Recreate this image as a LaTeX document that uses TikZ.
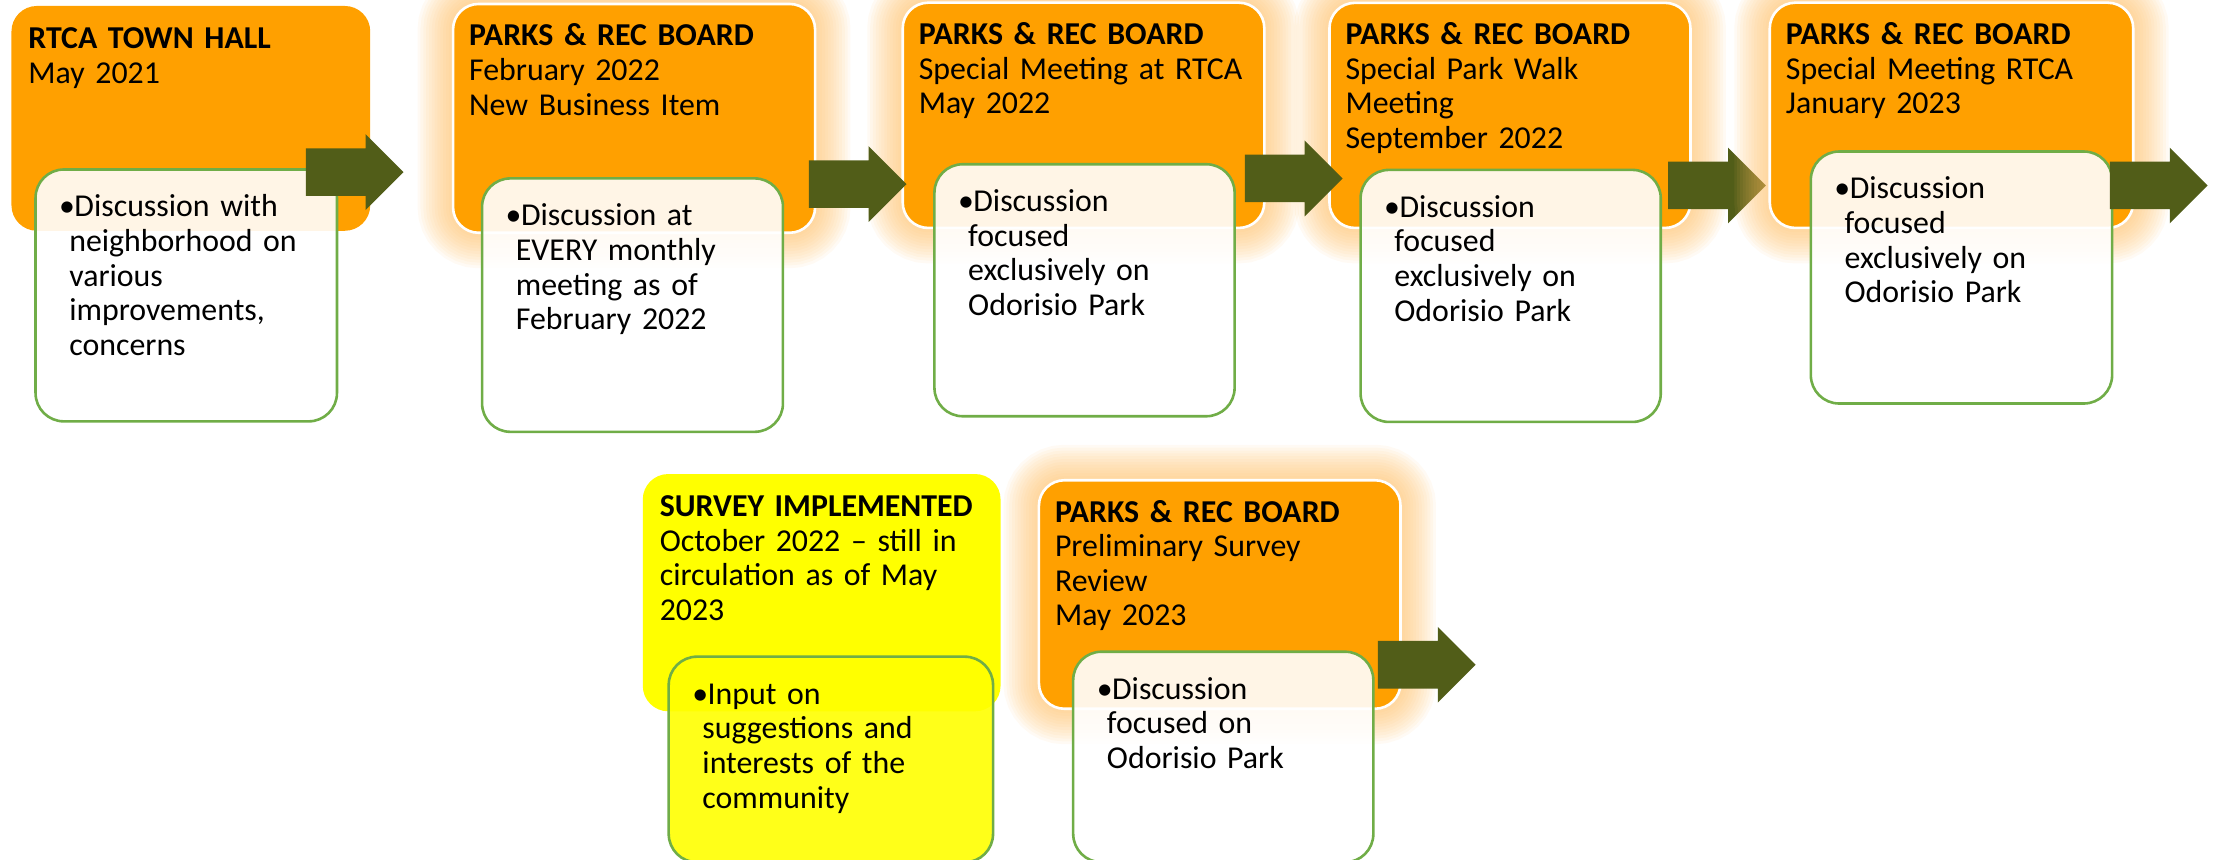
\documentclass[tikz,border=0pt]{standalone}
\usepackage{fontspec}
\setmainfont{Carlito}
\usetikzlibrary{shapes,arrows,positioning,fit}

\definecolor{stageorange}{RGB}{255,160,0}
\definecolor{surveyyellow}{RGB}{255,255,0}
\definecolor{notegreen}{RGB}{112,173,71}
\definecolor{arrowolive}{RGB}{81,93,24}
\definecolor{glowpeach}{RGB}{255,188,95}

\newcommand{\notebul}{\strut\hspace*{-0.18cm}\makebox[0.27cm][l]{\textbullet}}

\begin{document}
\begin{tikzpicture}[x=0.025cm, y=-0.025cm,
    stage/.style={fill=stageorange, rounded corners=0.45cm, inner sep=0pt},
    glowring/.style={preaction={draw=glowpeach, draw opacity=0.07, line width=#1}},
    glow/.style={draw=white, line width=1.3pt,
      glowring=1.25cm, glowring=1.15cm, glowring=1.05cm, glowring=0.95cm,
      glowring=0.85cm, glowring=0.75cm, glowring=0.65cm, glowring=0.55cm,
      glowring=0.45cm, glowring=0.35cm, glowring=0.25cm, glowring=0.15cm},
    note/.style={fill=white, fill opacity=0.9, draw=notegreen, line width=1.3pt,
      rounded corners=0.5cm, inner sep=0pt},
    head/.style={anchor=north west, inner sep=0pt, align=left, text width=6.2cm,
      font=\fontsize{16}{17.4}\selectfont},
    notetext/.style={anchor=north west, inner sep=0pt, align=left, text width=5cm,
      font=\fontsize{16}{17.4}\selectfont},
    blockarrow/.style={single arrow, fill=arrowolive, inner sep=0pt, anchor=tail,
      text height=0.825cm, text depth=0pt, text width=0pt,
      minimum height=1.725cm, minimum width=1.325cm,
      single arrow head extend=0.25cm, single arrow tip angle=90}]
  \useasboundingbox (0,0) rectangle (1568,607);
  \clip (0,0) rectangle (1568,607);

  %top row
  \node[stage, fit={(8.1,4.2) (261.5,163)}] (b1) {};
  \node[head] (t1) at ([shift={(12,13)}]b1.north west)
    {\strut\textbf{RTCA TOWN HALL}\\May 2021};
  \node[note, fit={(25.1,119.7) (238,297.6)}] (n1) {};
  \node[notetext] (m1) at ([shift={(24.5,17)}]n1.north west)
    {\notebul Discussion with\\neighborhood on\\various\\improvements,\\concerns};

  \node[stage, glow, fit={(320,2.8) (575.7,164.4)}] (b2) {};
  \node[head] (t2) at ([shift={(12,13)}]b2.north west)
    {\strut\textbf{PARKS \& REC BOARD}\\February 2022\\New Business Item};
  \node[note, fit={(340.5,126) (553,305)}] (n2) {};
  \node[notetext] (m2) at ([shift={(24.5,17)}]n2.north west)
    {\notebul Discussion at\\EVERY monthly\\meeting as of\\February 2022};

  \node[stage, glow, fit={(637.6,1.9) (893,161)}] (b3) {};
  \node[head] (t3) at ([shift={(12,13)}]b3.north west)
    {\strut\textbf{PARKS \& REC BOARD}\\Special Meeting at RTCA\\May 2022};
  \node[note, fit={(660,116) (872,294)}] (n3) {};
  \node[notetext] (m3) at ([shift={(24.5,17)}]n3.north west)
    {\notebul Discussion\\focused\\exclusively on\\Odorisio Park};

  \node[stage, glow, fit={(939,2) (1194,161)}] (b4) {};
  \node[head] (t4) at ([shift={(12,13)}]b4.north west)
    {\strut\textbf{PARKS \& REC BOARD}\\Special Park Walk\\Meeting\\September 2022};
  \node[note, fit={(961,120) (1173,298)}] (n4) {};
  \node[notetext] (m4) at ([shift={(24.5,17)}]n4.north west)
    {\notebul Discussion\\focused\\exclusively on\\Odorisio Park};

  \node[blockarrow] (a1) at (215.7,121.6) {};
  \node[blockarrow] (a2) at (571,130) {};
  \node[blockarrow] (a3) at (879,126) {};
  \node[blockarrow] (a4) at (1178,131) {};

  \node[stage, glow, fit={(1250,1.9) (1506.7,161)}] (b5) {};
  \node[head] (t5) at ([shift={(12,13)}]b5.north west)
    {\strut\textbf{PARKS \& REC BOARD}\\Special Meeting RTCA\\January 2023};
  \node[note, fit={(1279,107) (1491.8,285)}] (n5) {};
  \node[notetext] (m5) at ([shift={(24.5,17)}]n5.north west)
    {\notebul Discussion\\focused\\exclusively on\\Odorisio Park};
  \node[blockarrow] (a5) at (1490,131) {};

  %bottom row
  \node[stage, fill=surveyyellow, fit={(454,334.8) (706.7,502.4)}] (b6) {};
  \node[head] (t6) at ([shift={(12,13)}]b6.north west)
    {\strut\textbf{SURVEY IMPLEMENTED}\\October 2022 -- still in\\circulation as of May\\2023};
  \node[note, fill=surveyyellow, fit={(472.3,463.8) (701.4,609)}] (n6) {};
  \node[notetext] (m6) at ([shift={(24.5,17)}]n6.north west)
    {\notebul Input on\\suggestions and\\interests of the\\community};

  \node[stage, glow, fit={(733.8,339.2) (989.2,500.6)}] (b7) {};
  \node[head] (t7) at ([shift={(12,13)}]b7.north west)
    {\strut\textbf{PARKS \& REC BOARD}\\Preliminary Survey\\Review\\May 2023};
  \node[note, fit={(758,460.3) (970,609)}] (n7) {};
  \node[notetext] (m7) at ([shift={(24.5,17)}]n7.north west)
    {\notebul Discussion\\focused on\\Odorisio Park};
  \node[blockarrow] (a7) at (973,469.5) {};
\end{tikzpicture}
\end{document}
